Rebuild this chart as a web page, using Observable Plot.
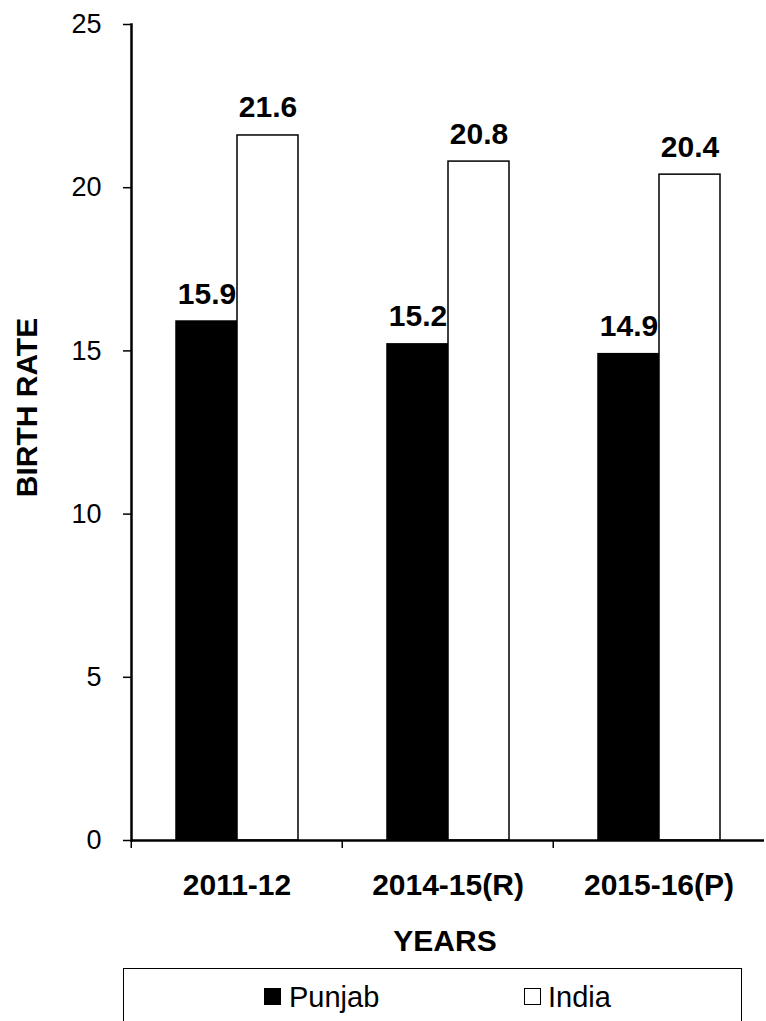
<!DOCTYPE html>
<html>
<head>
<meta charset="utf-8">
<script src="https://cdn.jsdelivr.net/npm/d3@7"></script>
<script src="https://cdn.jsdelivr.net/npm/@observablehq/plot@0.6"></script>
<style>
  html, body { margin: 0; padding: 0; background: #fff; }
  body { width: 766px; font-family: "Liberation Sans", Arial, sans-serif; color: #000; }
  #chart svg { display: block; }
  #legend { position: relative; box-sizing: border-box; margin-left: 123px; margin-top: 8px; width: 619px; height: 80px;
            border: 1.5px solid #000; border-bottom: none; }
  .sw { position: absolute; box-sizing: border-box; width: 17px; height: 17px; top: 19px; }
  .lt { position: absolute; top: 10px; font-size: 29px; line-height: 36px; }
</style>
</head>
<body>
<div id="chart"></div>
<div id="legend"></div>
<script>
const years = ["2011-12", "2014-15(R)", "2015-16(P)"];
const series = ["Punjab", "India"];
const punjab = [15.9, 15.2, 14.9];
const india = [21.6, 20.8, 20.4];
const yTicks = [0, 5, 10, 15, 20, 25];
const seriesColors = ["black", "white"];

const data = years.flatMap((y, i) => [
  {year: y, series: series[0], value: punjab[i]},
  {year: y, series: series[1], value: india[i]}
]);

const W = 766, H = 960, ML = 130, MR = 1.5, MT = 24, MB = 120;
const step = (W - ML - MR) / years.length;

const chart = Plot.plot({
  width: W, height: H,
  marginLeft: ML, marginRight: MR, marginTop: MT, marginBottom: MB,
  style: {fontFamily: '"Liberation Sans", Arial, sans-serif', background: "white", color: "black", overflow: "visible"},
  fx: {domain: years, padding: 0, label: null},
  x: {domain: series, paddingInner: 0, paddingOuter: 0.7195, axis: null},
  y: {domain: [0, 25]},
  color: {domain: series, range: seriesColors},
  marks: [
    Plot.barY(data, {fx: "year", x: "series", y: "value", fill: "series", stroke: "black", strokeWidth: 1.5}),
    Plot.text(data, {fx: "year", x: "series", y: "value", text: d => d.value.toFixed(1),
      lineAnchor: "bottom", dy: -18, fontSize: 30, fontWeight: "bold"}),
    Plot.ruleY([0], {strokeWidth: 2.5}),
    Plot.frame({anchor: "left", facetAnchor: "left", strokeWidth: 2.5}),
    Plot.axisY({ticks: yTicks, tickSize: 8, tickPadding: 22, fontSize: 27, label: null, strokeWidth: 1.5}),
    Plot.axisFx({anchor: "bottom", tickSize: 8, fill: "none", label: null, dx: -step / 2, strokeWidth: 1.5}),
    Plot.axisFx({anchor: "bottom", tickSize: 0, tickPadding: 33, fontSize: 30, fontWeight: "bold", label: null}),
    Plot.text([years[0]], {fx: d => d, frameAnchor: "left", text: ["BIRTH RATE"], rotate: -90,
      textAnchor: "middle", lineAnchor: "middle", dx: -104, dy: -25, fontSize: 30, fontWeight: "bold"}),
    Plot.text([years[1]], {fx: d => d, frameAnchor: "bottom", text: ["YEARS"],
      textAnchor: "middle", lineAnchor: "middle", dx: -3, dy: 101, fontSize: 30, fontWeight: "bold"})
  ]
});
document.getElementById("chart").append(chart);

// legend
const legend = document.getElementById("legend");
const swX = [140, 400], txX = [165, 424];
series.forEach((s, i) => {
  const sw = document.createElement("span");
  sw.className = "sw";
  sw.style.left = swX[i] + "px";
  sw.style.background = seriesColors[i];
  sw.style.border = "1.5px solid #000";
  legend.append(sw);
  const t = document.createElement("span");
  t.className = "lt";
  t.style.left = txX[i] + "px";
  t.textContent = s;
  legend.append(t);
});
</script>
</body>
</html>
